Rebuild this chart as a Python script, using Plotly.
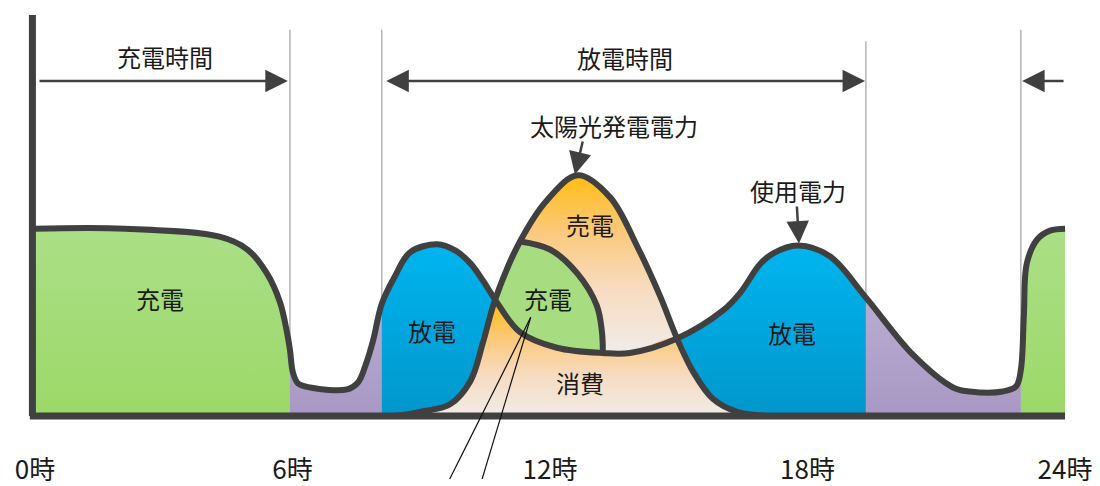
import plotly.graph_objects as go

# ---------------- data ----------------
TICK_HOURS = [0, 6, 12, 18, 24]
TICK_TEXT = ["0時", "6時", "12時", "18時", "24時"]

# 使用電力 (usage) curve
USAGE_H = [0.00, 2.10, 4.30, 4.95, 5.40, 5.71, 5.87, 5.94, 6.01, 6.13, 6.41, 7.27, 7.53,
           7.69, 7.88, 8.08, 8.39, 8.74, 9.37, 9.80, 10.14, 10.44, 10.72, 11.30, 12.16,
           13.23, 13.86, 14.96, 16.03, 16.43, 16.89, 17.19, 17.78, 18.52, 19.36, 20.46,
           21.39, 21.78, 22.55, 22.86, 22.97, 23.04, 23.11, 23.35, 23.65, 24.00]
USAGE_V = [4.67, 4.67, 4.47, 4.15, 3.56, 2.83, 2.09, 1.65, 1.08, 0.81, 0.71, 0.66, 0.84,
           1.23, 1.89, 2.80, 3.49, 4.08, 4.28, 4.12, 3.81, 3.37, 2.90, 2.09, 1.70,
           1.57, 1.57, 1.93, 2.63, 3.07, 3.78, 4.05, 4.25, 3.98, 2.95, 1.52,
           0.71, 0.61, 0.61, 0.74, 1.15, 2.50, 3.81, 4.40, 4.62, 4.67]

# 太陽光発電電力 (solar) curve
SOLAR_H = [8.39, 8.97, 9.67, 10.14, 10.44, 10.72, 11.30, 11.93, 12.65, 13.40, 14.03,
           14.56, 14.96, 15.33, 15.80, 16.36, 17.01]
SOLAR_V = [0.00, 0.10, 0.29, 0.86, 1.84, 2.90, 4.35, 5.38, 6.00, 5.45, 4.23,
           3.00, 1.93, 1.11, 0.42, 0.10, 0.00]

# boundary of the mid-day charging area
ARC_H = [11.30, 12.00, 12.63, 13.09, 13.21, 13.23]
ARC_V = [4.35, 4.15, 3.56, 2.75, 2.09, 1.57]

CROSS_1 = 10.72   # solar meets usage (morning)
CROSS_2 = 14.96   # solar meets usage (afternoon)
CHARGE_END = 5.94
DISCHARGE_START = 8.08
DISCHARGE_END = 19.36
CHARGE_START = 22.97

# ---------------- style ----------------
FONT = "Noto Sans CJK JP"
DARK = "#404040"
TXT = "#1a1a1a"
GREEN = [[0, "#9bd867"], [1, "#abdf86"]]
PURPLE = [[0, "#a797c3"], [1, "#b8abd0"]]
BLUE = [[0, "#0096cb"], [1, "#00b4ee"]]
ORANGE = [[0, "#f0eeed"], [0.4, "#f7dbc0"], [0.72, "#fbc877"], [1, "#ffbd16"]]


def seg(hs, vs, lo, hi):
    pts = [(h, v) for h, v in zip(hs, vs) if lo <= h <= hi]
    return [p[0] for p in pts], [p[1] for p in pts]


fig = go.Figure()

# dividers
for hx, top in [(CHARGE_END, 9.63), (DISCHARGE_START, 9.63), (DISCHARGE_END, 9.34), (CHARGE_START, 9.63)]:
    fig.add_trace(go.Scatter(x=[hx, hx], y=[0, top], mode="lines",
                             line=dict(color="#b4b4b4", width=1.5), hoverinfo="skip"))


def area(x, y, scale, lo=0.0, hi=None):
    fig.add_trace(go.Scatter(
        x=x, y=y, mode="lines", fill="tozeroy",
        line=dict(width=0, shape="spline", color="rgba(0,0,0,0)"),
        fillgradient=dict(type="vertical", start=lo, stop=hi if hi is not None else max(y),
                          colorscale=scale),
        hoverinfo="skip"))


area(*seg(USAGE_H, USAGE_V, 0, CHARGE_END), GREEN)
area(*seg(USAGE_H, USAGE_V, CHARGE_END, DISCHARGE_START), PURPLE)
area(*seg(USAGE_H, USAGE_V, DISCHARGE_START, ARC_H[0]), BLUE)
area(*seg(USAGE_H, USAGE_V, 13.8, DISCHARGE_END), BLUE)
area(*seg(USAGE_H, USAGE_V, DISCHARGE_END, CHARGE_START), PURPLE)
area(*seg(USAGE_H, USAGE_V, CHARGE_START, 24), GREEN)

# 売電 (whole solar area)
area(SOLAR_H, SOLAR_V, ORANGE, lo=1.5, hi=max(SOLAR_V))

# 消費 (under both curves)
sx1, sy1 = seg(SOLAR_H, SOLAR_V, 0, CROSS_1)
ux, uy = seg(USAGE_H, USAGE_V, CROSS_1 + 1e-6, CROSS_2 - 1e-6)
sx2, sy2 = seg(SOLAR_H, SOLAR_V, CROSS_2, 24)
area(sx1 + ux + sx2, sy1 + uy + sy2, ORANGE, lo=0, hi=2.9)

# 充電 (mid-day)
lx, ly = seg(USAGE_H, USAGE_V, CROSS_1, ARC_H[-1])
fig.add_trace(go.Scatter(x=lx, y=ly, mode="lines",
                         line=dict(width=0, shape="spline", color="rgba(0,0,0,0)"), hoverinfo="skip"))
tx, ty = seg(SOLAR_H, SOLAR_V, CROSS_1, ARC_H[0])
fig.add_trace(go.Scatter(x=tx + ARC_H[1:], y=ty + ARC_V[1:], mode="lines", fill="tonexty",
                         fillcolor="#a7dd80",
                         line=dict(width=0, shape="spline", color="rgba(0,0,0,0)"), hoverinfo="skip"))

# outlines
for xs, ys in [(USAGE_H, USAGE_V), (SOLAR_H, SOLAR_V), (ARC_H, ARC_V)]:
    fig.add_trace(go.Scatter(x=xs, y=ys, mode="lines",
                             line=dict(color=DARK, width=6, shape="spline"), hoverinfo="skip"))

# axes lines
fig.add_trace(go.Scatter(x=[-0.12, 24], y=[0, 0], mode="lines",
                         line=dict(color=DARK, width=7), hoverinfo="skip"))
fig.add_trace(go.Scatter(x=[-0.06, -0.06], y=[0, 10.0], mode="lines",
                         line=dict(color=DARK, width=7), hoverinfo="skip"))

# leader lines
for x_end in [9.65, 10.41]:
    fig.add_trace(go.Scatter(x=[11.55, x_end], y=[2.46, -1.6], mode="lines",
                             line=dict(color="#111111", width=1.2), hoverinfo="skip"))

# labels
labels = [
    ("充電", 2.91, 2.92), ("放電", 9.25, 2.14), ("充電", 11.95, 2.92), ("売電", 12.93, 4.77),
    ("消費", 12.70, 0.84), ("放電", 17.64, 2.09), ("充電時間", 3.03, 8.97),
    ("放電時間", 13.75, 8.94), ("太陽光発電電力", 13.49, 7.25), ("使用電力", 17.78, 5.63),
]
for t, hx, vy in labels:
    fig.add_annotation(x=hx, y=vy, text=t, showarrow=False,
                       font=dict(family=FONT, size=24, color=TXT))

arrows = [
    # (head_x, head_y, tail_x, tail_y, side)
    (5.89, 8.35, 0.07, 8.35, "end"),
    (19.34, 8.35, 8.15, 8.35, "end+start"),
    (23.0, 8.35, 24.0, 8.35, "end"),
    (12.58, 6.02, 12.77, 6.88, "end"),
    (17.80, 4.30, 17.75, 5.26, "end"),
]
for hx, hy, tx_, ty_, side in arrows:
    fig.add_annotation(x=hx, y=hy, ax=tx_, ay=ty_, xref="x", yref="y", axref="x", ayref="y",
                       text="", showarrow=True, arrowhead=2, startarrowhead=2,
                       arrowside=side, arrowsize=1.8, startarrowsize=1.8,
                       arrowwidth=2.5, arrowcolor=DARK)

# the page body adds an 8px offset; the figure is sized so the chart lands where it should
fig.update_layout(
    width=1092, height=478, margin=dict(l=0, r=0, t=0, b=0),
    paper_bgcolor="white", plot_bgcolor="white", showlegend=False,
    xaxis=dict(range=[-0.629, 24.814], showgrid=False, zeroline=False, showline=False,
               tickvals=TICK_HOURS, ticktext=TICK_TEXT, ticks="", anchor="free",
               position=64 / 478, ticklabelstandoff=36,
               tickfont=dict(family=FONT, size=26, color=TXT), fixedrange=True),
    yaxis=dict(range=[-1.5725, 10.172], visible=False, fixedrange=True),
)

fig.write_html("out.html")
